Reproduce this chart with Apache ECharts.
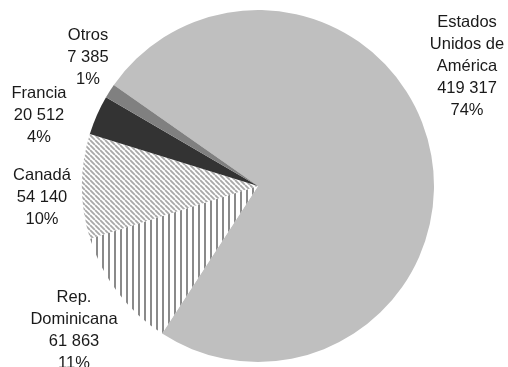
<!DOCTYPE html>
<html>
<head>
<meta charset="utf-8">
<style>
  html, body { margin: 0; padding: 0; background: #fff; }
  #chart { width: 508px; height: 367px; }
</style>
<script src="https://cdn.jsdelivr.net/npm/echarts@6/dist/echarts.min.js"></script>
</head>
<body>
<div id="chart"></div>
<script>
// Slices in drawing order (clockwise from the upper-left)
const countries = ['Estados\nUnidos de\nAmérica', 'Rep.\nDominicana', 'Canadá', 'Francia', 'Otros'];
const values = [419317, 61863, 54140, 20512, 7385];
const percentLabels = ['74%', '11%', '10%', '4%', '1%'];

// Label anchor points (pixel centre of each text block)
const labelSpots = [[467, 66], [74, 330], [42, 197], [39, 115], [88, 57]];

function stripePattern(kind) {
  const c = document.createElement('canvas');
  const size = kind === 'vertical' ? 6 : 5;
  c.width = size; c.height = size;
  const g = c.getContext('2d');
  g.fillStyle = '#ffffff';
  g.fillRect(0, 0, size, size);
  if (kind === 'vertical') {
    g.fillStyle = '#8a8a8a';
    g.fillRect(0, 0, 2, size);
  } else {
    g.strokeStyle = '#a8a8a8';
    g.lineWidth = 1.8;
    g.beginPath();
    for (let k = -size; k <= size * 2; k += size) {
      g.moveTo(k, 0);
      g.lineTo(k + size, size);
    }
    g.stroke();
  }
  return c;
}

const fills = [
  '#bfbfbf',
  { image: stripePattern('vertical'), repeat: 'repeat' },
  { image: stripePattern('diagonal'), repeat: 'repeat' },
  '#333333',
  '#808080'
];

function fmt(n) {
  return String(n).replace(/\B(?=(\d{3})+(?!\d))/g, ' ');
}

const chart = echarts.init(document.getElementById('chart'), null, { renderer: 'canvas' });
chart.setOption({
  animation: false,
  backgroundColor: '#ffffff',
  series: [{
    type: 'pie',
    center: [258, 186],
    radius: 176,
    startAngle: 145,
    clockwise: true,
    avoidLabelOverlap: false,
    itemStyle: { borderWidth: 0 },
    emphasis: { disabled: true },
    labelLine: { show: false },
    label: {
      show: true,
      position: 'outside',
      color: '#1a1a1a',
      fontFamily: 'Liberation Sans, Arial, sans-serif',
      fontSize: 16.5,
      lineHeight: 22,
      align: 'center',
      formatter: p => p.name + '\n' + fmt(p.value) + '\n' + percentLabels[p.dataIndex]
    },
    labelLayout: p => ({
      x: labelSpots[p.dataIndex][0],
      y: labelSpots[p.dataIndex][1],
      align: 'center',
      verticalAlign: 'middle',
      hideOverlap: false
    }),
    data: countries.map((name, i) => ({
      name: name,
      value: values[i],
      itemStyle: { color: fills[i] }
    }))
  }]
});
</script>
</body>
</html>
